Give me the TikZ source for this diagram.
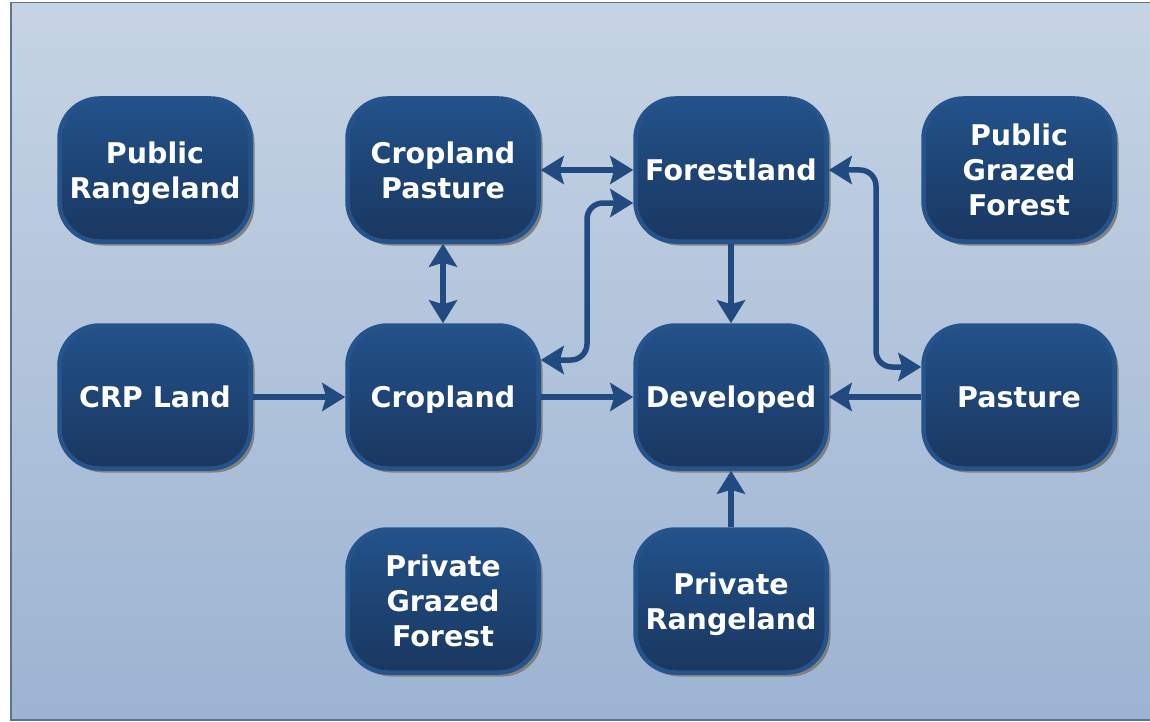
\documentclass[tikz,border=0pt]{standalone}
\usepackage{fontspec}
\newfontfamily\nodefont{DejaVu Sans}
\usetikzlibrary{arrows.meta,shadows,calc}
\definecolor{bgtop}{RGB}{198,212,228}
\definecolor{bgbot}{RGB}{156,179,210}
\definecolor{framecol}{RGB}{92,115,150}
\definecolor{boxtop}{RGB}{34,82,138}
\definecolor{boxbot}{RGB}{26,55,96}
\definecolor{boxring}{RGB}{37,83,140}
\definecolor{arrcol}{RGB}{33,74,128}
\tikzset{
  landbox/.style={rectangle, rounded corners=40pt, minimum width=191pt, minimum height=143pt,
    top color=boxtop, bottom color=boxbot, draw=boxring, line width=4.5pt,
    align=center, text=white, text depth=0pt, font=\nodefont\bfseries\fontsize{28.5}{35}\selectfont,
    drop shadow={shadow xshift=4pt, shadow yshift=-4pt, fill=black!50, opacity=1}},
  tipshape/.style={},
  conn/.style={draw=arrcol, line width=5.5pt,
    arrows={-Stealth[length=23pt, width=28pt, inset=4pt]}},
  biconn/.style={conn, arrows={Stealth[length=23pt, width=28pt, inset=4pt]-Stealth[length=23pt, width=28pt, inset=4pt]}}
}
\begin{document}
\begin{tikzpicture}[x=1pt,y=-1pt]
\useasboundingbox (0,0) rectangle (1150,722);
\begin{scope}
\clip (0,0) rectangle (1150,722);
\fill[white] (0,0) rectangle (1150,722);
\shade[top color=bgtop, bottom color=bgbot] (11,2.5) rectangle (1160,720);
\draw[framecol, line width=1.5pt] (11,2.5) rectangle (1160,720);
\end{scope}

\node[landbox] (pubrange) at (155,170) {Public\\Rangeland};
\node[landbox] (croppast) at (443,170) {Cropland\\Pasture};
\node[landbox] (forest) at (731,170) {Forestland};
\node[landbox] (pubgraz) at (1019,170) {Public\\Grazed\\Forest};
\node[landbox] (crp) at (155,397) {CRP Land};
\node[landbox] (crop) at (443,397) {Cropland};
\node[landbox] (dev) at (731,397) {Developed};
\node[landbox] (past) at (1019,397) {Pasture};
\node[landbox] (privgraz) at (443,601) {Private\\Grazed\\Forest};
\node[landbox] (privrange) at (731,601) {Private\\Rangeland};

\coordinate (m1) at (587,280);
\coordinate (m2) at (876,270);

\draw[biconn] (croppast) -- (forest);
\draw[biconn] (croppast) -- (crop);
\draw[conn] (crp) -- (crop);
\draw[conn] (crop) -- (dev);
\draw[conn] (forest) -- (dev);
\draw[conn] (past) -- (dev);
\draw[conn] (privrange) -- (dev);
\draw[biconn, rounded corners=16pt] ([yshift=37pt]crop.east) -| (m1) |- ([yshift=-33pt]forest.west);
\draw[biconn, rounded corners=16pt] (forest.east) -| (m2) |- ([yshift=30pt]past.west);
\end{tikzpicture}
\end{document}
